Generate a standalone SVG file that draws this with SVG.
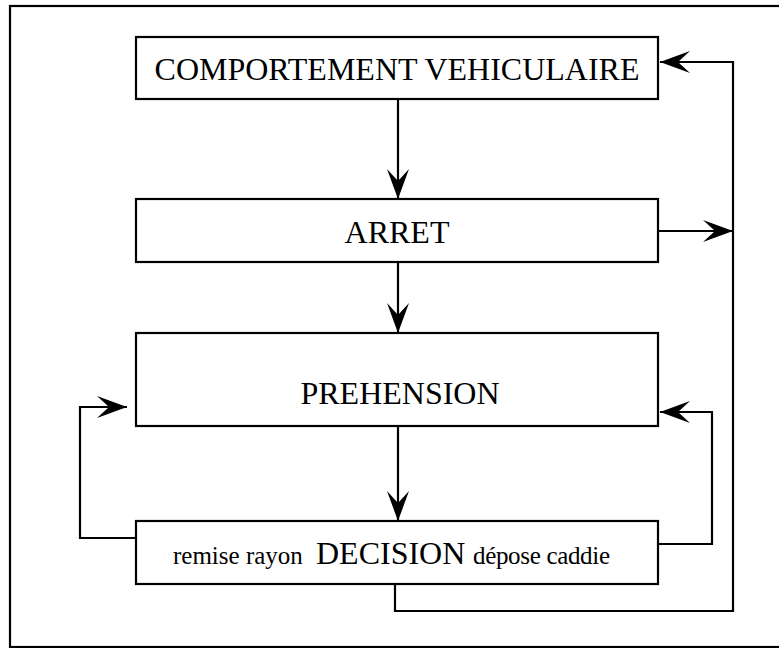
<svg xmlns="http://www.w3.org/2000/svg" width="779" height="648" viewBox="0 0 779 648">
<defs>
<marker id="ah" markerUnits="userSpaceOnUse" markerWidth="32" markerHeight="24" refX="30" refY="11" orient="auto" viewBox="0 0 32 24">
<path d="M30,11 L0,0 L12,11 L0,22 Z" fill="#000"/>
</marker>
</defs>
<style>
.box{fill:#fff;stroke:#000;stroke-width:2.2}
.t{font-family:"Liberation Serif","Times New Roman",serif;fill:#000}
.big{font-size:32px}
.small{font-size:25px}
.c{fill:none;stroke:#000;stroke-width:2.2}
</style>
<rect x="10" y="6" width="790" height="641" fill="#fff" stroke="#000" stroke-width="2.2"/>
<g id="connectors">
<path class="c" d="M398,99 V199" marker-end="url(#ah)"/>
<path class="c" d="M398,262 V333" marker-end="url(#ah)"/>
<path class="c" d="M398,426 V521" marker-end="url(#ah)"/>
<path class="c" d="M658,231 H733" marker-end="url(#ah)"/>
<path class="c" d="M395,584 V611 H733 V62 H660" marker-end="url(#ah)"/>
<path class="c" d="M658,544 H712 V412 H660" marker-end="url(#ah)"/>
<path class="c" d="M136,538 H80 V407 H127" marker-end="url(#ah)"/>
</g>
<g id="n1">
<rect class="box" x="136" y="37" width="522" height="62"/>
<text class="t big" x="397" y="80" text-anchor="middle">COMPORTEMENT VEHICULAIRE</text>
</g>
<g id="n2">
<rect class="box" x="136" y="199" width="522" height="63"/>
<text class="t big" x="397" y="243" text-anchor="middle">ARRET</text>
</g>
<g id="n3">
<rect class="box" x="136" y="333" width="522" height="93"/>
<text class="t big" x="400" y="404" text-anchor="middle">PREHENSION</text>
</g>
<g id="n4">
<rect class="box" x="136" y="521" width="522" height="63"/>
<text class="t small" x="173" y="564">remise rayon</text>
<text class="t big" x="316" y="564">DECISION</text>
<text class="t small" x="473" y="564" textLength="137">dépose caddie</text>
</g>
</svg>
